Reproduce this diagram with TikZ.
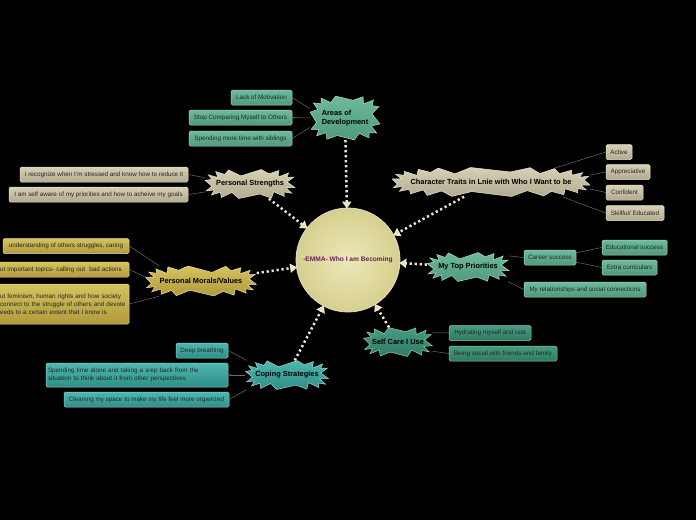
\documentclass[tikz,border=0pt]{standalone}
\usepackage{fontspec}
\setmainfont{Liberation Sans}
\usetikzlibrary{arrows.meta}
\definecolor{dotc}{HTML}{EEE9C8}
\definecolor{linec}{HTML}{6E6E58}
\definecolor{gA}{HTML}{6EBB9B}\definecolor{gB}{HTML}{4E9A7C}
\definecolor{bA}{HTML}{D6D0B6}\definecolor{bB}{HTML}{B3AB8F}
\definecolor{yA}{HTML}{D6C25E}\definecolor{yB}{HTML}{B09A3C}
\definecolor{sA}{HTML}{469C83}\definecolor{sB}{HTML}{2F7A64}
\definecolor{cA}{HTML}{4DB8B0}\definecolor{cB}{HTML}{2E8E88}
\definecolor{emma}{HTML}{6A1E5C}
\definecolor{cIn}{HTML}{ECE8B8}\definecolor{cOut}{HTML}{D6D08E}
% spiky outline: #1 prefix, #2 x, #3 y, #4 w, #5 h, #6 spikes, #7 style
\newcommand\spikyshape[7]{%
  \pgfmathtruncatemacro\spklast{2*#6-1}%
  \foreach \i in {0,...,\spklast} {
    \pgfmathsetmacro\spkt{(\i+0.5)*180/#6}
    \pgfmathsetmacro\spkd{mod(\i,2)==0 ? 0 : 6.5+1.5*sin(\i*97)}
    \pgfmathsetmacro\spkc{cos(\spkt)}
    \pgfmathsetmacro\spks{sin(\spkt)}
    \pgfmathsetmacro\spkx{#2+((#4)/2-\spkd)*sign(\spkc)*abs(\spkc)^0.6}
    \pgfmathsetmacro\spky{#3+((#5)/2-\spkd*0.8)*sign(\spks)*abs(\spks)^0.6}
    \coordinate (#1-p\i) at (\spkx,\spky);
  }
  \path[#7] (#1-p0) \foreach \i in {1,...,\spklast} { -- (#1-p\i) } -- cycle;
}
\begin{document}
\begin{tikzpicture}[x=1pt,y=-1pt,
  btext/.style={inner sep=0pt, font=\bfseries\fontsize{7.4}{8.6}\selectfont, text=black},
  gburst/.style={draw=gA!55!white, top color=gA, bottom color=gB, line width=0.5pt},
  bburst/.style={draw=bA!55!white, top color=bA, bottom color=bB, line width=0.5pt},
  yburst/.style={draw=yA!55!white, top color=yA, bottom color=yB, line width=0.5pt},
  sburst/.style={draw=sA!55!white, top color=sA, bottom color=sB, line width=0.5pt},
  cburst/.style={draw=cA!55!white, top color=cA, bottom color=cB, line width=0.5pt},
  leaf/.style={rounded corners=1.5pt, inner sep=2pt, minimum height=15pt,
     font=\fontsize{6.3}{8}\selectfont, text=black!85, line width=0.5pt},
  gleaf/.style={leaf, draw=gA!60!white, top color=gA, bottom color=gB},
  bleaf/.style={leaf, draw=bA!60!white, top color=bA, bottom color=bB},
  yleaf/.style={leaf, draw=yA!60!white, top color=yA, bottom color=yB},
  sleaf/.style={leaf, draw=sA!60!white, top color=sA, bottom color=sB},
  cleaf/.style={leaf, draw=cA!60!white, top color=cA, bottom color=cB},
  conn/.style={draw=linec, line width=0.5pt},
  dotl/.style={draw=dotc, line width=2.5pt, dash pattern=on 2.2pt off 2.8pt,
     -{Triangle[length=7pt,width=9pt,fill=bA]}, shorten >=-1pt}
]
\useasboundingbox (0,0) rectangle (696,520);
\fill[black] (0,0) rectangle (696,520);

% centre
\node[circle, minimum size=104pt, draw=bA!70!white, line width=0.8pt,
  inner color=cIn, outer color=cOut]
  (c) at (348,260) {\textcolor{emma}{\bfseries\fontsize{6.6}{7.5}\selectfont -EMMA- Who I am Becoming}};

% Areas of Development
\spikyshape{aodS}{345}{118}{70}{44}{14}{gburst}
\node[btext, minimum width=70pt, minimum height=44pt, align=left] (aod) at (345,118) {Areas of\\Development};
\node[gleaf, minimum width=61pt] (a1) at (261.5,97.5) {Lack of Motivation};
\node[gleaf, minimum width=103pt] (a2) at (240.5,117.5) {Stop Comparing Myself to Others};
\node[gleaf, minimum width=103pt] (a3) at (240.5,138.5) {Spending more time with siblings};
\draw[conn] (aod.165) -- (a1.east);
\draw[conn, -{Stealth[length=2.5pt]}] (aod.west) -- (a2.east);
\draw[conn] (aod.195) -- (a3.east);

% Personal Strengths
\spikyshape{psS}{250}{184}{90}{29}{16}{bburst}
\node[btext, minimum width=90pt, minimum height=29pt] (ps) at (250,184) {Personal Strengths};
\node[bleaf, minimum width=168pt] (p1) at (104,174.5) {I recognize when I'm stressed and know how to reduce it};
\node[bleaf, minimum width=179pt] (p2) at (98.5,194.5) {I am self aware of my priorities and how to acheive my goals};
\draw[conn] (ps.172) -- (p1.east);
\draw[conn] (ps.190) -- (p2.east);

% Character traits
\spikyshape{ctS}{491}{182}{198}{29}{22}{bburst}
\node[btext, minimum width=198pt, minimum height=29pt] (ct) at (491,182) {Character Traits in Lnie with Who I Want to be};
\node[bleaf, minimum width=26pt] (t1) at (619,152) {Active};
\node[bleaf, minimum width=44pt] (t2) at (628,172) {Appreciative};
\node[bleaf, minimum width=37pt] (t3) at (624.5,192.5) {Confident};
\node[bleaf, minimum width=58pt] (t4) at (635,213) {Skillful/ Educated};
\coordinate (ct1) at (555,168);
\coordinate (ct2) at (590,175);
\coordinate (ct3) at (590,189);
\coordinate (ct4) at (563,197);
\draw[conn] (ct1) -- (t1.west);
\draw[conn] (ct2) -- (t2.west);
\draw[conn] (ct3) -- (t3.west);
\draw[conn] (ct4) -- (t4.west);

% Personal Morals/Values
\spikyshape{pmS}{201}{281}{111}{30}{18}{yburst}
\node[btext, minimum width=111pt, minimum height=30pt] (pm) at (201,281) {Personal Morals/Values};
\node[yleaf, minimum width=126pt] (m1) at (66,246) {understanding of others struggles, caring};
\node[yleaf, minimum width=139pt, align=left, text width=135pt] (m2) at (59.5,269.5) {\hspace*{8pt}ut important topics- calling out\ \ bad actions};
\node[yleaf, minimum width=139pt, minimum height=40pt, align=left, text width=135pt, font=\fontsize{6.3}{8.2}\selectfont] (m3) at (59.5,304)
  {\hspace*{8pt}ut feminism, human rights and how society\\\hspace*{8pt}connect to the struggle of others and devote\\\hspace*{8pt}eeds to a certain extent that I know is\\[6pt]};
\draw[conn] (pm.160) -- (m1.east);
\draw[conn] (pm.176) -- (m2.east);
\draw[conn] (pm.200) -- (m3.east);

% My Top Priorities
\spikyshape{tpS}{468}{267}{82}{29}{16}{gburst}
\node[btext, minimum width=82pt, minimum height=29pt] (tp) at (468,267) {My Top Priorities};
\node[gleaf, minimum width=52pt] (r1) at (550,257.5) {Career success};
\node[gleaf, minimum width=65pt] (r2) at (634.5,247.5) {Educational success};
\node[gleaf, minimum width=55pt] (r3) at (629.5,267.5) {Extra curriculars};
\node[gleaf, minimum width=122pt] (r4) at (585,289.5) {My relationships and social connections};
\draw[conn] (tp.15) -- (r1.west);
\draw[conn] (tp.-20) -- (r4.west);
\draw[conn] (r1.10) -- (r2.west);
\draw[conn] (r1.-10) -- (r3.west);

% Self Care I Use
\spikyshape{scS}{398}{342}{69}{29}{14}{sburst}
\node[btext, minimum width=69pt, minimum height=29pt] (sc) at (398,342) {Self Care I Use};
\node[sleaf, minimum width=82pt] (s1) at (490,333) {Hydrating myself and rest};
\node[sleaf, minimum width=108pt] (s2) at (503,353.5) {Being social with friends and family};
\draw[conn] (sc.15) -- (s1.west);
\draw[conn] (sc.-15) -- (s2.west);

% Coping Strategies
\spikyshape{csS}{287}{375}{83}{29}{16}{cburst}
\node[btext, minimum width=83pt, minimum height=29pt] (cs) at (287,375) {Coping Strategies};
\node[cleaf, minimum width=52pt] (k1) at (202,350.5) {Deep breathing};
\node[cleaf, align=left, text width=178pt, minimum height=24pt] (k2) at (137,375) {Spending time alone and taking a srep back from the\\situation to think about it from other perspectives};
\node[cleaf, minimum width=165pt] (k3) at (146.5,399.5) {Cleaning my space to make my life feel more organized};
\draw[conn] (cs.160) -- (k1.east);
\draw[conn, -{Stealth[length=2.5pt]}] (cs.west) -- (k2.east);
\draw[conn] (cs.200) -- (k3.east);

% dotted connectors to centre
\draw[dotl] (aod) -- (c);
\draw[dotl] (ps) -- (c);
\draw[dotl] (ct) -- (c);
\draw[dotl] (pm) -- (c);
\draw[dotl] (tp) -- (c);
\draw[dotl] (sc) -- (c);
\draw[dotl] (cs) -- (c);
\end{tikzpicture}
\end{document}
